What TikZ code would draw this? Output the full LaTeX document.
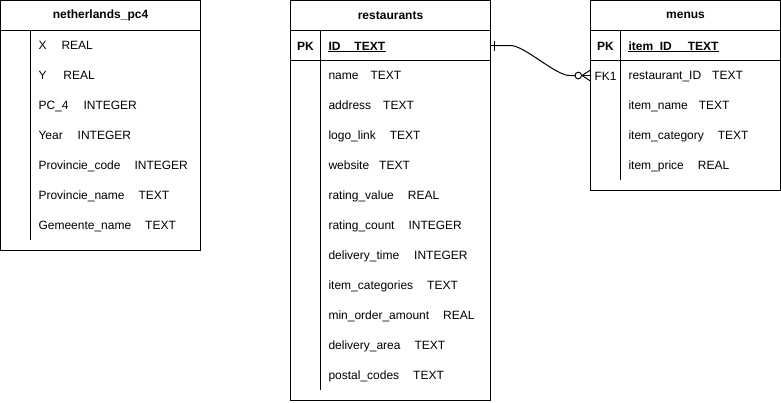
\documentclass[tikz,border=0pt]{standalone}
\usepackage{fontspec}
\setmainfont{Liberation Sans}
\begin{document}
\begin{tikzpicture}[x=1pt,y=-1pt,line width=1pt]
\tikzset{
  tbox/.style={draw, rectangle, inner sep=0pt, outer sep=0pt, anchor=north west},
  rowbox/.style={rectangle, inner sep=0pt, outer sep=0pt, minimum height=30pt},
  ttl/.style={font=\bfseries\fontsize{12}{14}\selectfont, inner sep=0pt},
  fld/.style={font=\fontsize{12}{14}\selectfont, inner sep=0pt, anchor=base west},
  keyfld/.style={font=\bfseries\fontsize{12}{14}\selectfont, inner sep=0pt, anchor=base west},
  keylbl/.style={font=\bfseries\fontsize{12}{14}\selectfont, inner sep=0pt, anchor=base},
  fklbl/.style={font=\fontsize{12}{14}\selectfont, inner sep=0pt, anchor=base},
  uline/.style={line width=0.9pt},
  rel/.style={line width=1pt},
}
\useasboundingbox (0,0) rectangle (781,402);

% ---------------- netherlands_pc4 ----------------
\node[tbox, minimum width=200pt, minimum height=250pt] (np) at (0.5,0.5) {};
\node[ttl] (npt) at (100.5,15.5) {netherlands\_pc4};
\draw ([yshift=-30pt]np.north west) -- ([yshift=-30pt]np.north east);
\draw ([xshift=30pt,yshift=-30pt]np.north west) -- ([xshift=30pt,yshift=-239.5pt]np.north west);
\foreach \t [count=\i] in {
  {X\hspace{15pt}REAL},
  {Y\hspace{17pt}REAL},
  {PC\_4\hspace{15pt}INTEGER},
  {Year\hspace{15pt}INTEGER},
  {Provincie\_code\hspace{14pt}INTEGER},
  {Provincie\_name\hspace{14pt}TEXT},
  {Gemeente\_name\hspace{14pt}TEXT}}
  \node[fld] (npf\i) at (38,{15+30*\i+4.6}) {\t};

% ---------------- restaurants ----------------
\node[tbox, minimum width=200pt, minimum height=400pt] (rs) at (290.5,0.5) {};
\node[ttl] (rst) at (390.5,15.5) {restaurants};
\draw ([yshift=-30pt]rs.north west) -- ([yshift=-30pt]rs.north east);
\draw ([yshift=-60pt]rs.north west) -- ([yshift=-60pt]rs.north east);
\draw ([xshift=30pt,yshift=-30pt]rs.north west) -- ([xshift=30pt,yshift=-389.5pt]rs.north west);
\node[rowbox, minimum width=200pt] (rrow0) at (390.5,45.5) {};
\node[keylbl] (rpk) at (305.5,50.1) {PK};
\node[keyfld] (rid) at (328,50.1) {ID\hspace{14pt}TEXT};
\draw[uline] ([yshift=-1.8pt]rid.base west) -- ([yshift=-1.8pt]rid.base east);
\foreach \t [count=\i] in {
  {name\hspace{12pt}TEXT},
  {address\hspace{12pt}TEXT},
  {logo\_link\hspace{14pt}TEXT},
  {website\hspace{10pt}TEXT},
  {rating\_value\hspace{14pt}REAL},
  {rating\_count\hspace{14pt}INTEGER},
  {delivery\_time\hspace{15pt}INTEGER},
  {item\_categories\hspace{14pt}TEXT},
  {min\_order\_amount\hspace{14pt}REAL},
  {delivery\_area\hspace{14pt}TEXT},
  {postal\_codes\hspace{14pt}TEXT}}
  \node[fld] (rsf\i) at (328,{45+30*\i+4.6}) {\t};

% ---------------- menus ----------------
\node[tbox, minimum width=190pt, minimum height=190pt] (mn) at (590.5,0.5) {};
\node[ttl] (mnt) at (685.5,15.5) {menus};
\draw ([yshift=-30pt]mn.north west) -- ([yshift=-30pt]mn.north east);
\draw ([yshift=-60pt]mn.north west) -- ([yshift=-60pt]mn.north east);
\draw ([xshift=30pt,yshift=-30pt]mn.north west) -- ([xshift=30pt,yshift=-179.5pt]mn.north west);
\node[keylbl] (mpk) at (605.5,50.1) {PK};
\node[keyfld] (mid) at (628,50.1) {item\_ID\hspace{16pt}TEXT};
\draw[uline] ([yshift=-1.8pt]mid.base west) -- ([yshift=-1.8pt]mid.base east);
\node[rowbox, minimum width=190pt] (mrow1) at (685.5,75.5) {};
\node[fklbl] (mfk) at (605.5,80.1) {FK1};
\foreach \t [count=\i] in {
  {restaurant\_ID\hspace{11pt}TEXT},
  {item\_name\hspace{11pt}TEXT},
  {item\_category\hspace{14pt}TEXT},
  {item\_price\hspace{14pt}REAL}}
  \node[fld] (mnf\i) at (628,{45+30*\i+4.6}) {\t};

% ---------------- relation (one to zero-or-many) ----------------
\coordinate (ca) at ([xshift=20pt]rrow0.east);
\coordinate (cb) at ([xshift=-21pt]mrow1.west);
\coordinate (cc) at ([xshift=-15.5pt]mrow1.west);
\coordinate (co) at ([xshift=-12.2pt]mrow1.west);
\coordinate (cf) at ([xshift=-8.5pt]mrow1.west);
\draw[rel] (rrow0.east) -- (ca) .. controls +(14,0) and +(-14,0) .. (cb) -- (cc);
\draw[rel] (co) circle (3.3pt);
\draw[rel] ([xshift=3.5pt,yshift=-5pt]rrow0.east) -- ([xshift=3.5pt,yshift=5pt]rrow0.east);
\draw[rel] (cf) -- ([yshift=-5.5pt]mrow1.west);
\draw[rel] (cf) -- (mrow1.west);
\draw[rel] (cf) -- ([yshift=5.5pt]mrow1.west);
\end{tikzpicture}
\end{document}
